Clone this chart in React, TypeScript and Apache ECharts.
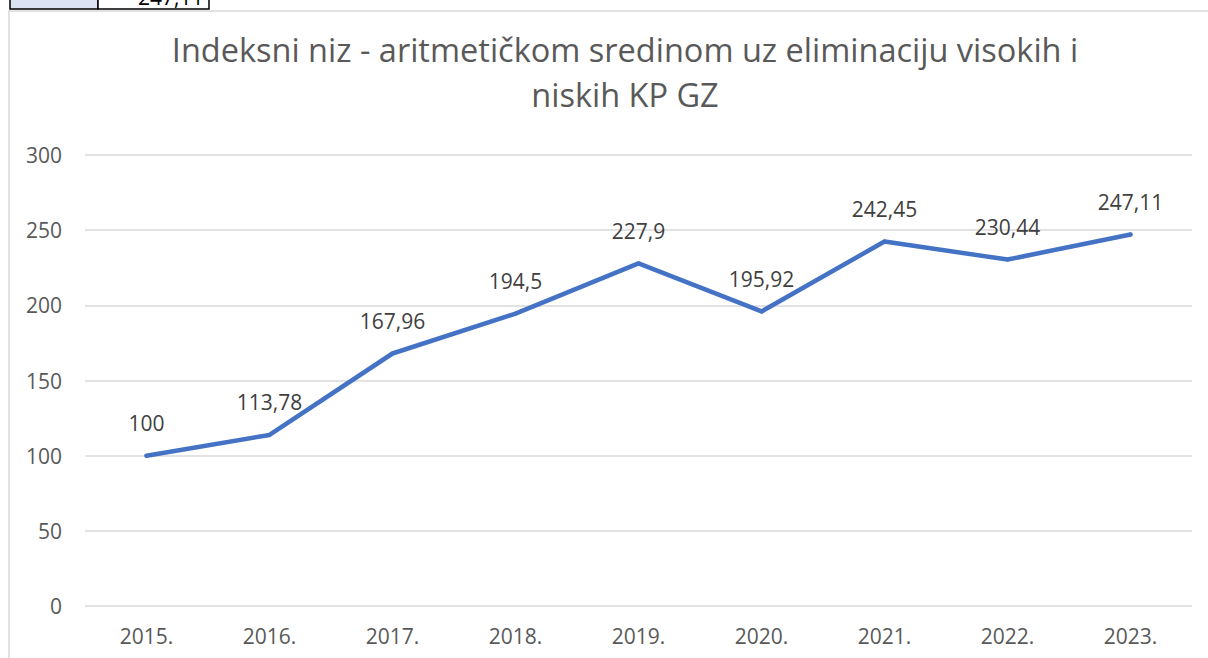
import React, { useEffect, useRef } from "react";
import * as echarts from "echarts";

const categories = ["2015.", "2016.", "2017.", "2018.", "2019.", "2020.", "2021.", "2022.", "2023."];
const values = [100, 113.78, 167.96, 194.5, 227.9, 195.92, 242.45, 230.44, 247.11];
const titleText = "Indeksni niz - aritmetičkom sredinom uz eliminaciju visokih i\nniskih KP GZ";
const cellText = "247,11";

export default function App() {
  const ref = useRef<HTMLDivElement>(null);
  useEffect(() => {
    if (!ref.current) return;
    const chart = echarts.init(ref.current, undefined, { renderer: "svg" });
    const font = "Open Sans, Noto Sans, sans-serif";
    chart.setOption({
      animation: false,
      backgroundColor: "#ffffff",
      title: {
        text: titleText,
        left: 620,
        textAlign: "center",
        top: 22,
        textStyle: {
          fontFamily: font,
          fontSize: 32.5,
          fontWeight: "normal",
          color: "#595959",
          lineHeight: 45,
        },
      },
      grid: { left: 85, right: 16, top: 155, bottom: 52, containLabel: false },
      xAxis: {
        type: "category",
        data: categories,
        boundaryGap: true,
        axisLine: { show: false },
        axisTick: { show: false },
        axisLabel: { fontFamily: font, fontSize: 21, color: "#595959", margin: 19 },
      },
      yAxis: {
        type: "value",
        min: 0,
        max: 300,
        interval: 50,
        axisLine: { show: false },
        axisTick: { show: false },
        splitLine: { lineStyle: { color: "#d9d9d9", width: 1.5 } },
        axisLabel: { fontFamily: font, fontSize: 21, color: "#595959", margin: 23 },
      },
      series: [
        {
          type: "line",
          data: values,
          symbol: "circle",
          symbolSize: 4,
          showSymbol: true,
          itemStyle: { color: "#4472C4", borderWidth: 0 },
          lineStyle: { color: "#4472C4", width: 4.5, cap: "round", join: "round" },
          label: {
            show: true,
            position: "top",
            distance: 20,
            fontFamily: font,
            fontSize: 21,
            color: "#404040",
            formatter: (p: any) => String(p.value).replace(".", ","),
          },
        },
      ],
      graphic: [
        {
          type: "rect",
          shape: { x: 9, y: 11, width: 1300, height: 800 },
          style: { fill: "none", stroke: "#d9d9d9", lineWidth: 1.5 },
          z: 100,
        },
        {
          type: "rect",
          shape: { x: 10, y: -5, width: 88, height: 14 },
          style: { fill: "#dce3f2", stroke: "#000000", lineWidth: 1.5 },
          z: 100,
        },
        {
          type: "rect",
          shape: { x: 98, y: -5, width: 111, height: 14 },
          style: { fill: "#ffffff", stroke: "#000000", lineWidth: 1.5 },
          z: 100,
        },
        {
          type: "text",
          x: 138,
          y: -14,
          style: { text: cellText, fontFamily: font, fontSize: 21, fill: "#000000" },
          z: 101,
        },
      ],
    });
    return () => chart.dispose();
  }, []);
  return (
    <div
      ref={ref}
      style={{ position: "absolute", left: 0, top: 0, width: 1208, height: 658 }}
    />
  );
}
